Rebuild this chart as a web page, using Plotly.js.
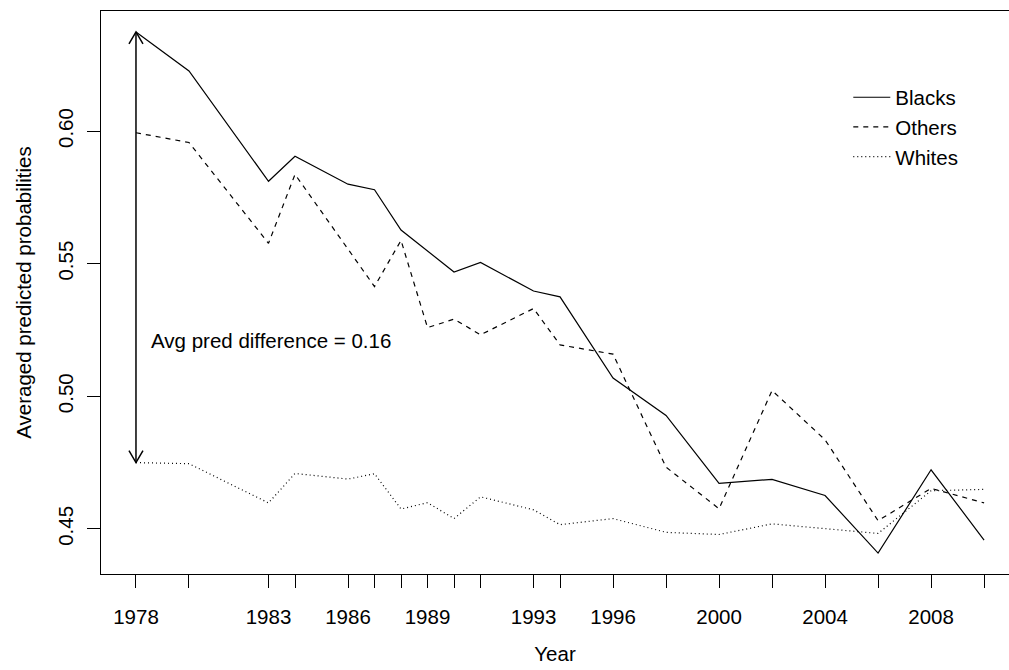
<!DOCTYPE html>
<html>
<head>
<meta charset="utf-8">
<script src="https://cdn.plot.ly/plotly-3.0.1.min.js"></script>
<style>html,body{margin:0;padding:0;background:#fff}#chart{width:1009px;height:670px}</style>
</head>
<body>
<div id="chart"></div>
<script>
const years = [1978,1980,1983,1984,1986,1987,1988,1989,1990,1991,1993,1994,1996,1998,2000,2002,2004,2006,2008,2010];
const yearLabels = ['1978','','1983','','1986','','','1989','','','1993','','1996','','2000','','2004','','2008',''];
const blacks = [0.6374,0.6227,0.5811,0.5905,0.5800,0.5779,0.5627,0.5548,0.5469,0.5505,0.5397,0.5375,0.5069,0.4928,0.4672,0.4687,0.4626,0.4409,0.4723,0.4458];
const others = [0.5994,0.5957,0.5577,0.5837,0.5555,0.5414,0.5588,0.5259,0.5291,0.5232,0.5331,0.5194,0.5159,0.4733,0.4576,0.5022,0.4836,0.4531,0.4653,0.4598];
const whites = [0.4750,0.4746,0.4598,0.4709,0.4688,0.4708,0.4575,0.4599,0.4539,0.4621,0.4572,0.4516,0.4539,0.4487,0.4479,0.4519,0.4501,0.4483,0.4644,0.4649];
const yTicks = [0.45,0.50,0.55,0.60];
const yTickLabels = ['0.45','0.50','0.55','0.60'];

const FONT = 'Liberation Sans, Arial, Helvetica, sans-serif';
const FS = 20.5;
const diff = blacks[0] - whites[0];

const traces = [
  {x: years, y: blacks, name: 'Blacks', type: 'scatter', mode: 'lines',
   line: {color: '#000', width: 1.2}},
  {x: years, y: others, name: 'Others', type: 'scatter', mode: 'lines',
   line: {color: '#000', width: 1.2, dash: '5px,5px'}},
  {x: years, y: whites, name: 'Whites', type: 'scatter', mode: 'lines',
   line: {color: '#000', width: 1.2, dash: '1px,3px'}},
  {x: [years[0], years[0]], y: [blacks[0], whites[0]], type: 'scatter', mode: 'lines',
   showlegend: false, hoverinfo: 'skip', line: {color: '#000', width: 1.5}}
];

const layout = {
  width: 1009, height: 670,
  margin: {l: 101, r: 0, t: 11, b: 96, pad: 0},
  paper_bgcolor: '#fff', plot_bgcolor: '#fff',
  font: {family: FONT, size: FS, color: '#000'},
  showlegend: true,
  legend: {x: 0.823, y: 0.882, xanchor: 'left', yanchor: 'top', itemwidth: 37,
           bgcolor: 'rgba(0,0,0,0)', font: {family: FONT, size: FS, color: '#000'},
           tracegroupgap: 0},
  xaxis: {
    range: [1976.68, 2010.94], tickmode: 'array', tickvals: years, ticktext: yearLabels,
    ticks: 'outside', ticklen: 13, tickwidth: 1, tickcolor: '#000',
    showline: true, mirror: true, linecolor: '#000', linewidth: 1,
    showgrid: false, zeroline: false, ticklabelstandoff: 11,
    tickfont: {family: FONT, size: FS, color: '#000'},
    title: {text: 'Year', font: {family: FONT, size: FS, color: '#000'}, standoff: 20}
  },
  yaxis: {
    range: [0.4330, 0.6453], tickmode: 'array', tickvals: yTicks, ticktext: yTickLabels,
    ticks: 'outside', ticklen: 13, tickwidth: 1, tickcolor: '#000', tickangle: -90,
    showline: true, mirror: true, linecolor: '#000', linewidth: 1,
    showgrid: false, zeroline: false, ticklabelstandoff: 6,
    tickfont: {family: FONT, size: FS, color: '#000'},
    title: {text: 'Averaged predicted probabilities', font: {family: FONT, size: FS, color: '#000'}, standoff: 16}
  },
  shapes: [
    {type: 'path', xref: 'x', yref: 'y', xsizemode: 'pixel', ysizemode: 'pixel',
     xanchor: years[0], yanchor: blacks[0], path: 'M -7,-12 L 0,0 L 7,-12',
     line: {color: '#000', width: 1.5}},
    {type: 'path', xref: 'x', yref: 'y', xsizemode: 'pixel', ysizemode: 'pixel',
     xanchor: years[0], yanchor: whites[0], path: 'M -7,12 L 0,0 L 7,12',
     line: {color: '#000', width: 1.5}}
  ],
  annotations: [
    {x: years[0] + 0.5, y: 0.521, xref: 'x', yref: 'y', xanchor: 'left', yanchor: 'middle',
     text: 'Avg pred difference = ' + diff.toFixed(2), showarrow: false,
     font: {family: FONT, size: FS, color: '#000'}}
  ]
};

Plotly.newPlot('chart', traces, layout, {displayModeBar: false, staticPlot: true});
</script>
</body>
</html>
